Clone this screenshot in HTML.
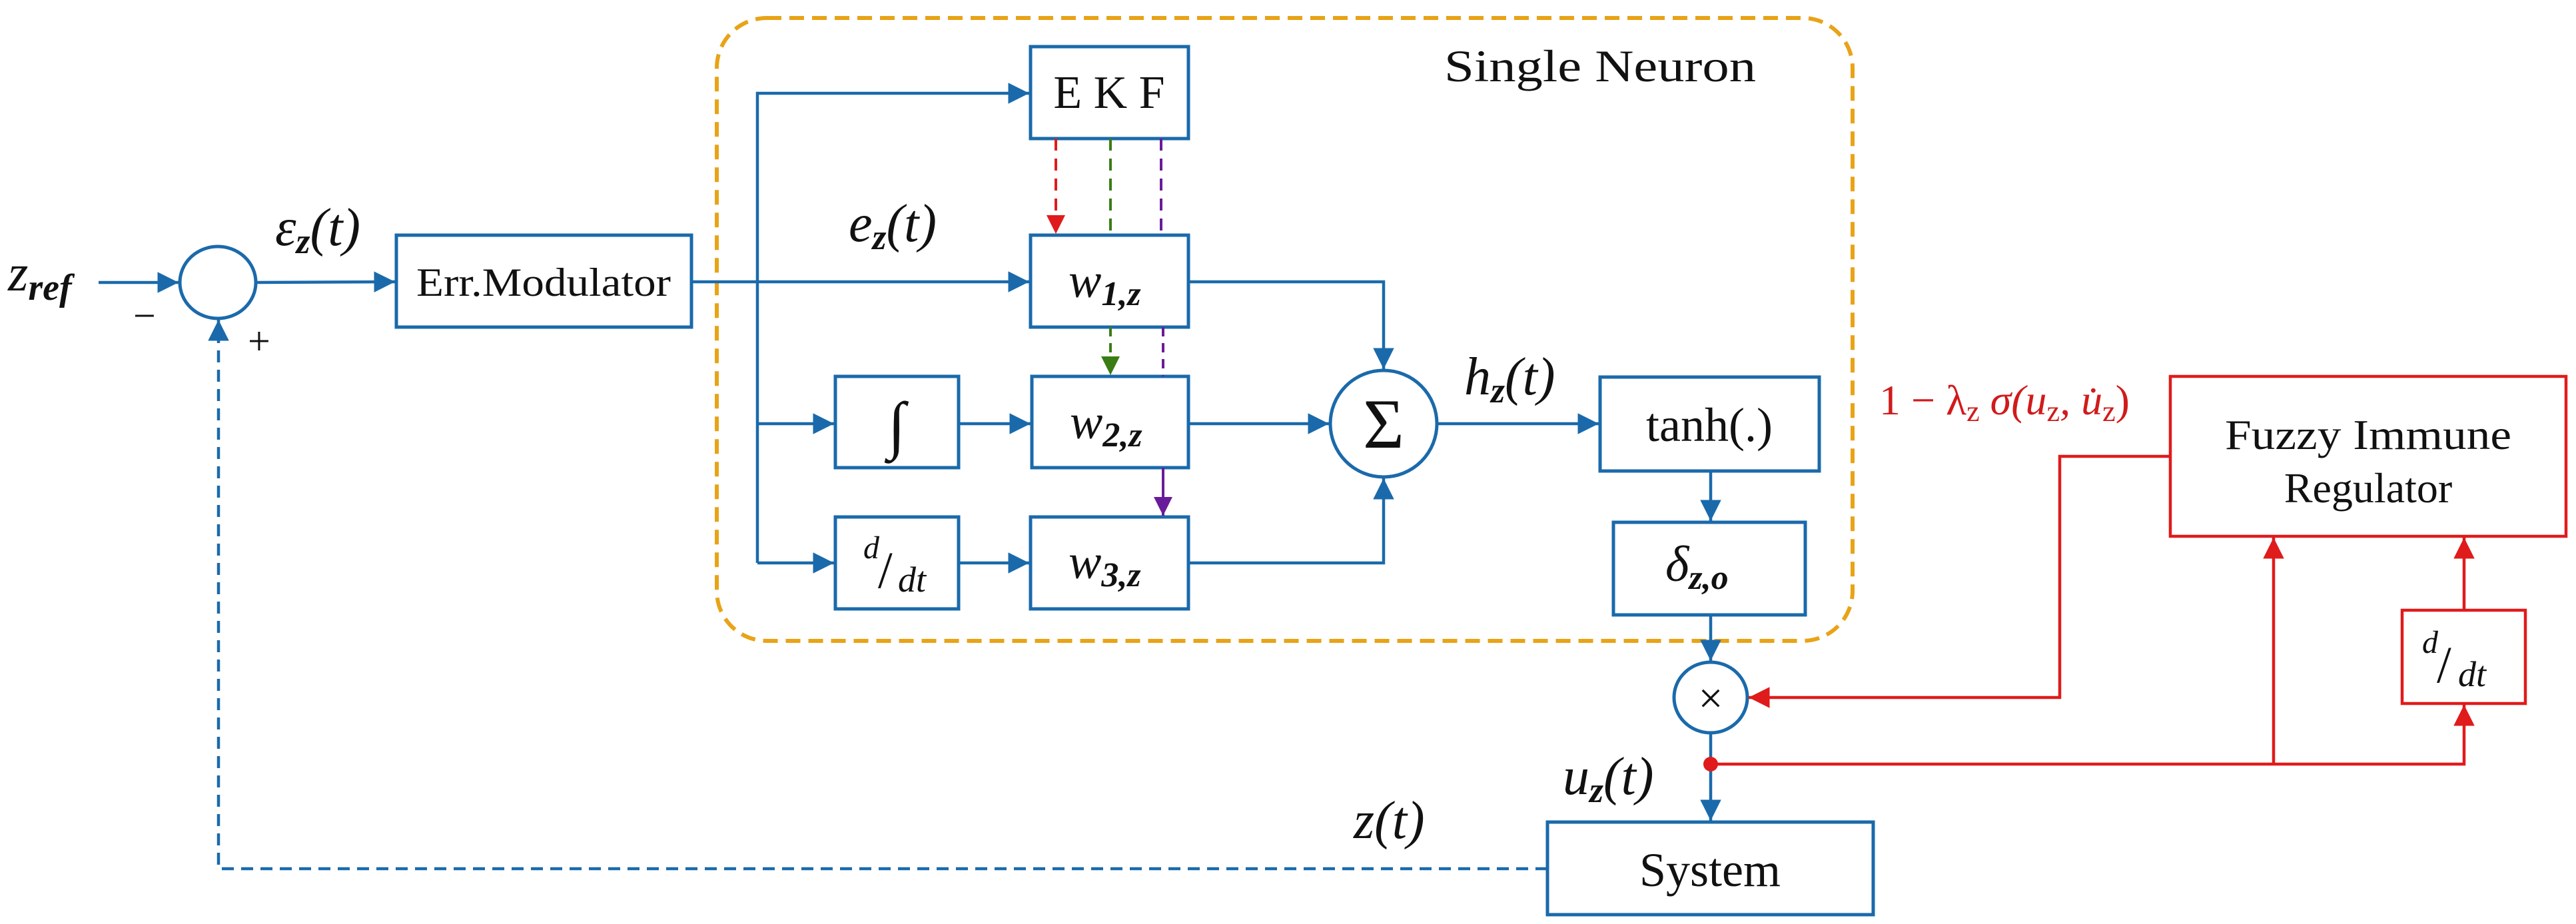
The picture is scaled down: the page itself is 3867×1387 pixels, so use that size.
<!DOCTYPE html>
<html><head><meta charset="utf-8"><style>html,body{margin:0;padding:0;background:#fff}svg{display:block}</style></head>
<body>
<svg width="3867" height="1387" viewBox="0 0 3867 1387" xmlns="http://www.w3.org/2000/svg">
<defs>
<marker id="ab" viewBox="0 0 10 10" refX="10" refY="5" markerWidth="7" markerHeight="7" markerUnits="strokeWidth" orient="auto"><path d="M0,0 L10,5 L0,10 z" fill="#1a6aab"/></marker>
<marker id="ar" viewBox="0 0 10 10" refX="10" refY="5" markerWidth="7" markerHeight="7" markerUnits="strokeWidth" orient="auto"><path d="M0,0 L10,5 L0,10 z" fill="#e01b1b"/></marker>
<marker id="ag" viewBox="0 0 10 10" refX="10" refY="5" markerWidth="7" markerHeight="7" markerUnits="strokeWidth" orient="auto"><path d="M0,0 L10,5 L0,10 z" fill="#3a7d14"/></marker>
<marker id="ap" viewBox="0 0 10 10" refX="10" refY="5" markerWidth="7" markerHeight="7" markerUnits="strokeWidth" orient="auto"><path d="M0,0 L10,5 L0,10 z" fill="#6a1b9a"/></marker>
</defs>
<g font-family="Liberation Serif, serif" fill="#111">
<rect x="1076" y="27" width="1705" height="935" rx="75" fill="none" stroke="#e8a317" stroke-width="6" stroke-dasharray="22,12"/>
<g fill="none" stroke="#1a6aab" stroke-width="5">
<ellipse cx="327" cy="424" rx="57" ry="54"/>
<rect x="595" y="353" width="443" height="138"/>
<rect x="1547" y="70" width="237" height="138"/>
<rect x="1547" y="353" width="237" height="138"/>
<rect x="1549" y="565" width="235" height="137"/>
<rect x="1547" y="776" width="237" height="138"/>
<rect x="1254" y="565" width="185" height="137"/>
<rect x="1254" y="776" width="185" height="138"/>
<circle cx="2077" cy="636" r="80"/>
<rect x="2402" y="566" width="329" height="141"/>
<rect x="2422" y="784" width="288" height="139"/>
<ellipse cx="2568" cy="1047" rx="55" ry="53"/>
<rect x="2323" y="1234" width="489" height="139"/>
</g>
<g fill="none" stroke="#1a6aab" stroke-width="4.5">
<line x1="148" y1="424" x2="268" y2="424" marker-end="url(#ab)"/>
<line x1="384" y1="424" x2="593" y2="423" marker-end="url(#ab)"/>
<line x1="1038" y1="423" x2="1545" y2="423" marker-end="url(#ab)"/>
<polyline points="1137,845 1137,140 1545,140" marker-end="url(#ab)"/>
<line x1="1137" y1="845" x2="1252" y2="845" marker-end="url(#ab)"/>
<line x1="1137" y1="636" x2="1252" y2="636" marker-end="url(#ab)"/>
<line x1="1439" y1="636" x2="1547" y2="636" marker-end="url(#ab)"/>
<line x1="1439" y1="845" x2="1545" y2="845" marker-end="url(#ab)"/>
<polyline points="1784,423 2077,423 2077,554" marker-end="url(#ab)"/>
<line x1="1784" y1="636" x2="1995" y2="636" marker-end="url(#ab)"/>
<polyline points="1784,845 2077,845 2077,718" marker-end="url(#ab)"/>
<line x1="2157" y1="636" x2="2400" y2="636" marker-end="url(#ab)"/>
<line x1="2568" y1="707" x2="2568" y2="782" marker-end="url(#ab)"/>
<line x1="2568" y1="923" x2="2568" y2="992" marker-end="url(#ab)"/>
<line x1="2568" y1="1100" x2="2568" y2="1232" marker-end="url(#ab)"/>
<polyline points="2323,1304 328,1304 328,480" stroke-dasharray="18,11" marker-end="url(#ab)"/>
</g>
<line x1="1585" y1="208" x2="1585" y2="351" stroke="#e01b1b" stroke-width="4" stroke-dasharray="18,12" marker-end="url(#ar)"/>
<line x1="1667" y1="208" x2="1667" y2="353" stroke="#3a7d14" stroke-width="4" stroke-dasharray="18,12"/>
<line x1="1667" y1="491" x2="1667" y2="563" stroke="#3a7d14" stroke-width="4" stroke-dasharray="14,10" marker-end="url(#ag)"/>
<line x1="1743" y1="208" x2="1743" y2="353" stroke="#6a1b9a" stroke-width="4" stroke-dasharray="18,12"/>
<line x1="1746" y1="491" x2="1746" y2="565" stroke="#6a1b9a" stroke-width="4" stroke-dasharray="14,10"/>
<line x1="1746" y1="702" x2="1746" y2="774" stroke="#6a1b9a" stroke-width="4" marker-end="url(#ap)"/>
<g fill="none" stroke="#e01b1b" stroke-width="4.5">
<rect x="3258" y="565" width="594" height="240"/>
<rect x="3606" y="916" width="185" height="140"/>
<polyline points="3258,685 3092,685 3092,1047 2625,1047" marker-end="url(#ar)"/>
<polyline points="2568,1147 3699,1147 3699,1058" marker-end="url(#ar)"/>
<line x1="3413" y1="1147" x2="3413" y2="807" marker-end="url(#ar)"/>
<line x1="3699" y1="916" x2="3699" y2="807" marker-end="url(#ar)"/>
</g>
<circle cx="2568" cy="1147" r="11" fill="#e01b1b"/>
<text x="12" y="436" font-size="78" font-style="italic">z<tspan font-size="56" dy="14" font-weight="bold">ref</tspan></text>
<text x="200" y="494" font-size="60">−</text>
<text x="372" y="532" font-size="60">+</text>
<text x="413" y="368" font-size="80" font-style="italic">ε<tspan font-size="54" dy="12" font-weight="bold">z</tspan><tspan dy="-12">(t)</tspan></text>
<text x="816" y="444" font-size="60" text-anchor="middle" textLength="382" lengthAdjust="spacingAndGlyphs">Err.Modulator</text>
<text x="1274" y="362" font-size="80" font-style="italic">e<tspan font-size="54" dy="12" font-weight="bold">z</tspan><tspan dy="-12">(t)</tspan></text>
<text x="1665" y="162" font-size="70" text-anchor="middle">E K F</text>
<text x="1604" y="446" font-size="74" font-style="italic">w<tspan font-size="52" dy="12" font-weight="bold">1,z</tspan></text>
<text x="1606" y="658" font-size="74" font-style="italic">w<tspan font-size="52" dy="12" font-weight="bold">2,z</tspan></text>
<text x="1604" y="868" font-size="74" font-style="italic">w<tspan font-size="52" dy="12" font-weight="bold">3,z</tspan></text>
<text x="1346" y="670" font-size="96" text-anchor="middle" font-style="italic">∫</text>
<text x="1296" y="838" font-size="48" font-style="italic">d</text>
<text x="1318" y="882" font-size="78">/</text>
<text x="1348" y="888" font-size="54" font-style="italic">dt</text>
<text x="2077" y="672" font-size="106" text-anchor="middle">Σ</text>
<text x="2198" y="592" font-size="80" font-style="italic">h<tspan font-size="54" dy="12" font-weight="bold">z</tspan><tspan dy="-12">(t)</tspan></text>
<text x="2566" y="662" font-size="72" text-anchor="middle">tanh(.)</text>
<text x="2500" y="872" font-size="76" font-style="italic">δ<tspan font-size="52" dy="12" font-weight="bold">z,o</tspan></text>
<text x="2568" y="1070" font-size="66" text-anchor="middle">×</text>
<text x="2346" y="1192" font-size="80" font-style="italic">u<tspan font-size="54" dy="12" font-weight="bold">z</tspan><tspan dy="-12">(t)</tspan></text>
<text x="2032" y="1258" font-size="80" font-style="italic">z(t)</text>
<text x="2567" y="1330" font-size="72" text-anchor="middle">System</text>
<text x="2402" y="122" font-size="68" text-anchor="middle" textLength="468" lengthAdjust="spacingAndGlyphs">Single Neuron</text>
<text x="3555" y="674" font-size="64" text-anchor="middle" textLength="430" lengthAdjust="spacingAndGlyphs">Fuzzy Immune</text>
<text x="3555" y="754" font-size="64" text-anchor="middle">Regulator</text>
<text x="2821" y="622" font-size="64" fill="#d11a1a">1 − λ<tspan font-size="44" dy="10">z</tspan><tspan dy="-10" font-style="italic"> σ(u</tspan><tspan font-size="44" dy="10">z</tspan><tspan dy="-10" font-style="italic">, u̇</tspan><tspan font-size="44" dy="10">z</tspan><tspan dy="-10">)</tspan></text>
<text x="3636" y="980" font-size="48" font-style="italic">d</text>
<text x="3658" y="1024" font-size="78">/</text>
<text x="3690" y="1030" font-size="54" font-style="italic">dt</text>
</g>
</svg>
</body></html>
